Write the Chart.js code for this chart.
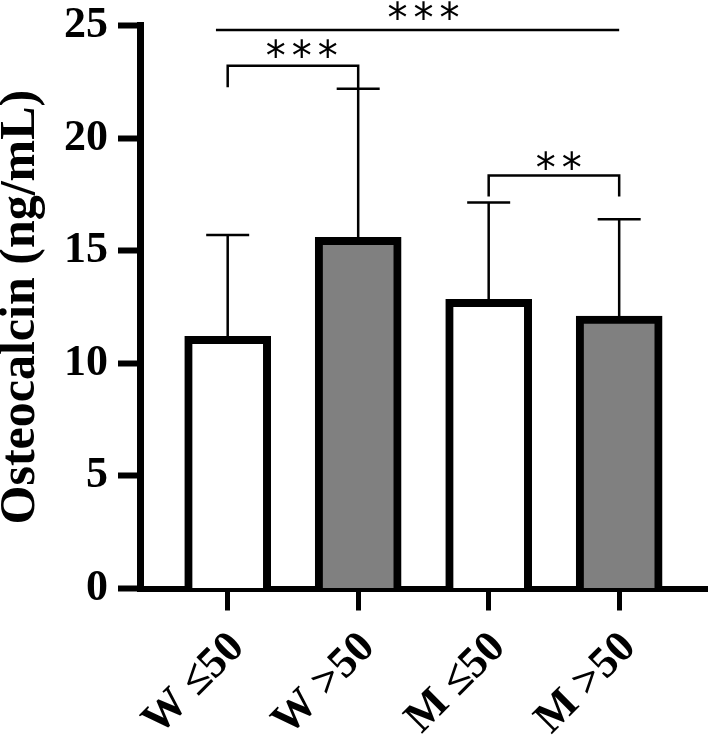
<!DOCTYPE html>
<html>
<head>
<meta charset="utf-8">
<script src="https://cdn.jsdelivr.net/npm/chart.js@4.4.1/dist/chart.umd.min.js"></script>
<style>
  html, body { margin: 0; padding: 0; background: #fff; }
  #wrap { width: 708px; height: 746px; }
</style>
</head>
<body>
<div id="wrap"><canvas id="myChart" width="708" height="746"></canvas></div>
<script>
// group labels and values
const groups = ['W \u226450', 'W >50', 'M \u226450', 'M >50'];
const means = [11.2, 15.6, 12.85, 12.1];
const upperSD = [15.7, 22.2, 17.15, 16.4];
const barColors = ['#ffffff', '#808080', '#ffffff', '#808080'];
const yTicks = [0, 5, 10, 15, 20, 25];

// significance brackets (x in group index, y in ng/mL)
const bracketFrom = [0, -0.09, 2];
const bracketTo = [1, 3, 3];
const bracketLevel = [23.22, 24.81, 18.35];
const bracketLeftEnd = [22.27, 24.81, 17.41];
const bracketRightEnd = [22.2, 24.81, 17.41];
const bracketStars = [3, 3, 2];
const starCenter = [0.567, 1.5, 2.536];
const starLevel = [23.93, 25.61, 18.97];

const FONT = '"Liberation Serif", "Times New Roman", serif';

// error bars + brackets drawn through the chart scales
const annotations = {
  id: 'annotations',
  afterDatasetsDraw(chart) {
    const { ctx, scales: { x, y } } = chart;
    ctx.save();
    ctx.strokeStyle = '#000';
    ctx.lineWidth = 2.5;
    means.forEach((m, i) => {
      const px = x.getPixelForValue(i);
      const y0 = y.getPixelForValue(m);
      const y1 = y.getPixelForValue(upperSD[i]);
      ctx.beginPath();
      ctx.moveTo(px, y0);
      ctx.lineTo(px, y1);
      ctx.moveTo(px - 21.5, y1);
      ctx.lineTo(px + 21.5, y1);
      ctx.stroke();
    });

    ctx.fillStyle = '#000';
    ctx.font = '40px "DejaVu Sans", sans-serif';
    ctx.textAlign = 'center';
    ctx.textBaseline = 'middle';
    bracketLevel.forEach((lvl, i) => {
      const xa = x.getPixelForValue(bracketFrom[i]);
      const xb = x.getPixelForValue(bracketTo[i]);
      const yl = y.getPixelForValue(lvl);
      ctx.beginPath();
      ctx.moveTo(xa, y.getPixelForValue(bracketLeftEnd[i]));
      ctx.lineTo(xa, yl);
      ctx.lineTo(xb, yl);
      ctx.lineTo(xb, y.getPixelForValue(bracketRightEnd[i]));
      ctx.stroke();
      const cx = x.getPixelForValue(starCenter[i]);
      const sy = y.getPixelForValue(starLevel[i]) + 10; // glyph sits high in the em box
      const n = bracketStars[i];
      for (let k = 0; k < n; k++) {
        ctx.fillText('*', cx + (k - (n - 1) / 2) * 26, sy);
      }
    });
    ctx.restore();
  }
};

const ctx = document.getElementById('myChart').getContext('2d');
new Chart(ctx, {
  type: 'bar',
  data: {
    datasets: [{
      data: means.map((m, i) => ({ x: i, y: m })),
      backgroundColor: barColors,
      borderColor: '#000',
      borderWidth: 8,
      borderSkipped: 'bottom',
      barThickness: 86,
    }],
  },
  options: {
    responsive: false,
    animation: false,
    devicePixelRatio: 1,
    layout: { padding: { left: 0, right: 1, top: 0, bottom: 0 } },
    plugins: { legend: { display: false }, tooltip: { enabled: false } },
    scales: {
      x: {
        type: 'linear',
        offset: false,
        min: -0.672,
        max: 3.673,
        afterBuildTicks: s => { s.ticks = groups.map((_, i) => ({ value: i })); },
        afterFit: s => { s.height = 157.5; s.paddingLeft = 0; s.paddingRight = 0; },
        grid: { offset: false, drawOnChartArea: false, drawTicks: true, tickLength: 22, tickWidth: 5, tickColor: '#000' },
        border: { display: true, width: 6, color: '#000' },
        ticks: {
          color: '#000',
          font: { family: FONT, size: 44, weight: 'bold', lineHeight: 1.95 },
          minRotation: 45,
          maxRotation: 45,
          padding: 0,
          labelOffset: 10,
          callback: v => groups[v],
        },
      },
      y: {
        min: 0,
        max: 25,
        afterBuildTicks: s => { s.ticks = yTicks.map(v => ({ value: v })); },
        afterFit: s => { s.width = 140; s.paddingTop = 25.7; s.paddingBottom = 0; },
        grid: { drawOnChartArea: false, drawTicks: true, tickLength: 22, tickWidth: 6, tickColor: '#000' },
        border: { display: true, width: 7, color: '#000' },
        ticks: {
          color: '#000',
          font: { family: FONT, size: 44, weight: 'bold' },
          padding: 10,
        },
        title: {
          display: true,
          text: 'Osteocalcin (ng/mL)',
          color: '#000',
          font: { family: FONT, size: 50, weight: 'bold', lineHeight: 0.86 },
          padding: { top: 0, bottom: 0 },
        },
      },
    },
  },
  plugins: [annotations],
});
</script>
</body>
</html>
